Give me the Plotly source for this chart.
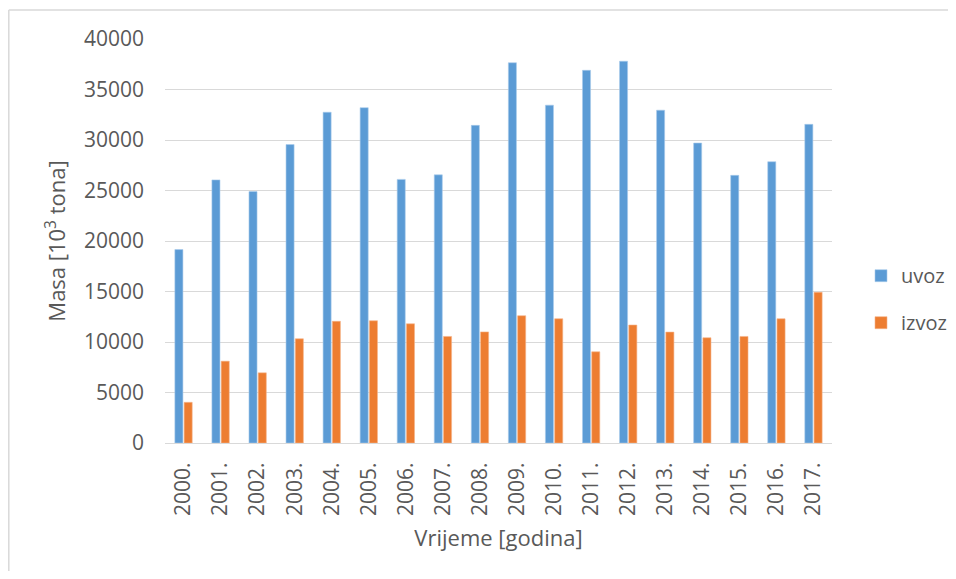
import plotly.graph_objects as go

years = ["2000.", "2001.", "2002.", "2003.", "2004.", "2005.", "2006.", "2007.", "2008.",
         "2009.", "2010.", "2011.", "2012.", "2013.", "2014.", "2015.", "2016.", "2017."]
uvoz = [19150, 26050, 24900, 29550, 32750, 33200, 26100, 26550, 31450,
        37650, 33450, 36900, 37800, 32950, 29700, 26500, 27850, 31550]
izvoz = [4030, 8100, 6950, 10320, 12050, 12100, 11800, 10550, 11000,
         12600, 12300, 9030, 11680, 10980, 10420, 10550, 12300, 14920]

FONT = "Open Sans"
GRAY = "#595959"

W, H = 940, 563
L, R, T, B = 157, 116, 31, 128
PW, PH = W - L - R, H - T - B

fig = go.Figure()
fig.add_trace(go.Bar(x=years, y=uvoz, name="uvoz", marker_color="#5B9BD5",
                     marker_line=dict(color="#A9CBEB", width=0.6), legendgroup="a"))
fig.add_trace(go.Bar(x=years, y=izvoz, name="izvoz", marker_color="#ED7D31",
                     marker_line=dict(color="#F5B48A", width=0.6), legendgroup="b"))

fig.update_layout(
    width=W, height=H,
    margin=dict(l=L, r=R, t=T, b=B, autoexpand=False),
    paper_bgcolor="white", plot_bgcolor="white",
    barmode="group", bargap=0.5, bargroupgap=0.13,
    font=dict(family=FONT, color=GRAY, size=21),
    showlegend=True,
    legend=dict(x=(853 - L) / PW, y=0.356, xanchor="left", yanchor="middle",
                font=dict(size=20, color=GRAY), traceorder="grouped",
                tracegroupgap=18, itemwidth=30, bgcolor="rgba(0,0,0,0)"),
    xaxis=dict(tickangle=-90, showgrid=False, showline=True, linecolor="#D9D9D9",
               linewidth=1, ticks="", tickfont=dict(size=21, color=GRAY),
               ticklabelstandoff=10,
               title=dict(text="Vrijeme [godina]", font=dict(size=22, color=GRAY), standoff=15)),
    yaxis=dict(range=[0, 40000], dtick=5000, tickformat="d", showgrid=True,
               gridcolor="#D9D9D9", gridwidth=1, zeroline=False, showline=False, ticks="",
               tickfont=dict(size=21, color=GRAY), ticklabelstandoff=20,
               title=dict(text="Masa [10<sup>3</sup> tona]", font=dict(size=22, color=GRAY), standoff=12)),
)

# outer chart frame (top and left edges visible in the reference)
bx = (0.8 - L) / PW
ty = (PH + T - 2) / PH
fig.add_shape(type="line", xref="paper", yref="paper", x0=bx, x1=(W - L) / PW, y0=ty, y1=ty,
              line=dict(color="#D9D9D9", width=1.5), layer="below")
fig.add_shape(type="line", xref="paper", yref="paper", x0=bx, x1=bx, y0=-B / PH, y1=ty,
              line=dict(color="#D9D9D9", width=1.5), layer="below")

fig.write_html("out.html")
